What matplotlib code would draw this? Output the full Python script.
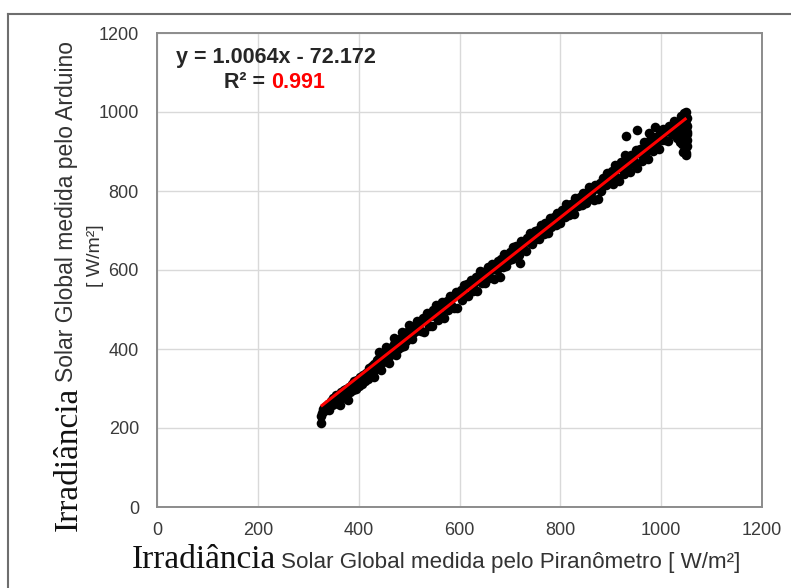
import matplotlib
matplotlib.use("Agg")
import matplotlib.pyplot as plt
from matplotlib.lines import Line2D

# ---------------- data ----------------
x_a = [325, 326, 328, 330, 332, 335, 337, 340, 342, 345, 347, 350, 352, 355, 357, 360, 362, 365, 367,
       370, 372, 375, 378, 380, 383, 386, 388, 391, 394, 397, 400, 403, 406, 409, 412, 415, 418]
y_a = [213, 230, 238, 247, 242, 255, 250, 262, 246, 268, 258, 275, 262, 283, 270, 280, 258, 290, 275,
       296, 282, 300, 272, 305, 290, 312, 295, 318, 300, 322, 306, 328, 312, 335, 318, 340, 325]

x_b = [421, 423, 426, 428, 431, 433, 436, 438, 441, 443, 446, 448, 451, 453, 456, 458, 461, 463, 466, 468,
       471, 473, 476, 478, 481, 483, 486, 488, 491, 493, 496, 498, 501, 503, 506, 508, 511, 513, 516, 518,
       430, 445, 460, 475, 490, 505, 440, 455, 470, 485, 500, 515]
y_b = [352, 335, 358, 342, 363, 350, 372, 355, 378, 362, 383, 368, 390, 372, 395, 378, 400, 385, 405, 390,
       412, 395, 420, 400, 425, 405, 430, 418, 436, 420, 442, 428, 448, 432, 452, 440, 458, 445, 462, 450,
       330, 348, 365, 385, 408, 425, 392, 405, 428, 444, 460, 470]

x_c = [521, 524, 527, 530, 533, 536, 539, 542, 545, 548, 551, 554, 557, 560, 563, 566, 569, 572, 575, 578,
       581, 584, 587, 590, 593, 596, 599, 602, 605, 608, 611, 614, 617, 620, 623, 626, 629, 632, 635, 638,
       641, 644, 647, 650, 653, 656, 659, 662, 665, 668, 671, 674, 677, 680, 683, 686, 689, 692, 695, 698, 720]
y_c = [468, 446, 479, 444, 470, 490, 459, 484, 457, 498, 483, 511, 474, 504, 487, 518, 479, 512, 522, 500,
       535, 511, 531, 504, 545, 503, 536, 549, 525, 562, 535, 564, 534, 562, 575, 548, 566, 582, 547, 582,
       598, 568, 594, 567, 593, 608, 579, 599, 615, 578, 613, 601, 624, 582, 627, 608, 641, 609, 635, 625, 618]

x_d = [701, 704, 707, 710, 713, 716, 719, 722, 725, 728, 731, 734, 737, 740, 743, 746, 749, 752, 755, 758,
       761, 764, 767, 770, 773, 776, 779, 782, 785, 788, 791, 794, 797, 800, 803, 806, 809, 812, 815, 818,
       821, 824, 827, 830, 833, 836, 839, 842, 845, 848, 851, 854, 857, 860, 863, 866, 869, 872, 875, 878,
       881, 884, 887, 890, 893, 896, 899]
y_d = [645, 628, 657, 637, 660, 653, 639, 674, 654, 670, 648, 682, 671, 694, 665, 686, 699, 678, 701, 678,
       713, 699, 691, 719, 711, 694, 732, 710, 728, 735, 714, 745, 729, 719, 751, 745, 735, 766, 757, 739,
       767, 760, 742, 782, 773, 763, 786, 764, 795, 782, 769, 798, 809, 784, 801, 776, 816, 807, 779, 820,
       801, 834, 824, 815, 845, 825, 843]

x_e = [902, 905, 908, 911, 914, 917, 920, 923, 926, 929, 932, 935, 938, 941, 944, 947, 950, 953, 956, 959,
       962, 965, 968, 971, 974, 977, 980, 983, 986, 989, 992, 995, 998, 1001, 1004, 1007, 1010, 1013, 1016,
       1019, 1022, 1025, 1028, 930, 952, 975, 988]
y_e = [850, 818, 866, 836, 857, 825, 873, 859, 844, 890, 860, 880, 849, 892, 882, 868, 905, 858, 897, 907,
       877, 923, 896, 916, 882, 930, 915, 901, 937, 914, 935, 906, 946, 929, 957, 928, 951, 926, 964,
       955, 945, 976, 956, 940, 955, 948, 962]

x_f = [1032, 1035, 1038, 1040, 1042, 1044, 1045, 1046, 1047, 1048, 1049, 1050, 1050, 1051, 1051, 1052, 1052,
       1048, 1046, 1044, 1050, 1052, 1049, 1047, 1045, 1051, 1043, 1040, 1037, 1050]
y_f = [935, 975, 950, 990, 920, 965, 998, 940, 905, 980, 925, 960, 895, 945, 915, 985, 930,
       910, 955, 900, 970, 950, 890, 935, 985, 965, 940, 960, 925, 1000]

slope = 1.0064
intercept = -72.172
r2 = 0.991
fit_x = [325, 1050]

x_ticks = [0, 200, 400, 600, 800, 1000, 1200]
y_ticks = [0, 200, 400, 600, 800, 1000, 1200]

eq_text = "y = 1.0064x - 72.172"
r2_label = "R² = "
r2_text = "0.991"
xlab_serif = "Irradiância"
xlab_rest = "Solar Global medida pelo Piranômetro [ W/m²]"
ylab_serif = "Irradiância"
ylab_rest = "Solar Global medida pelo Arduino"
ylab_line2 = "[ W/m²]"

# ---------------- figure ----------------
W, H = 791, 588
fig = plt.figure(figsize=(W / 100, H / 100), dpi=100)
fig.patch.set_facecolor("white")

def fx(px):
    return px / W

def fy(py):
    return 1 - py / H

ax = fig.add_axes([fx(157), fy(507), fx(762) - fx(157), fy(33) - fy(507)])

xs = x_a + x_b + x_c + x_d + x_e + x_f
ys = y_a + y_b + y_c + y_d + y_e + y_f
ax.scatter(xs, ys, s=48, color="black", linewidths=0, zorder=3)

fy_line = [slope * v + intercept for v in fit_x]
ax.plot(fit_x, fy_line, color="#ff0000", lw=2.2, zorder=4, solid_capstyle="butt")

ax.set_xlim(0, 1200)
ax.set_ylim(0, 1200)
ax.set_xticks(x_ticks)
ax.set_yticks(y_ticks)
ax.grid(True, color="#d9d9d9", lw=1.0)
ax.set_axisbelow(True)
for s in ax.spines.values():
    s.set_color("#8c8c8c")
    s.set_linewidth(1.4)
ax.tick_params(length=0, labelsize=13, labelcolor="#3a3a3a")
ax.tick_params(axis="x", pad=11)
ax.tick_params(axis="y", pad=13)
for lab in ax.get_xticklabels() + ax.get_yticklabels():
    lab.set_fontfamily("Liberation Sans")

# outer frame (extends past right and bottom edge)
fig.add_artist(Line2D([fx(8), 1.0], [fy(14), fy(14)], transform=fig.transFigure, color="#6e6e6e", lw=1.5))
fig.add_artist(Line2D([fx(8), fx(8)], [0.0, fy(14)], transform=fig.transFigure, color="#6e6e6e", lw=1.5))

# equation
fig.text(fx(276), fy(57), eq_text, ha="center", va="center", fontsize=15.5, fontweight="bold",
         family="Liberation Sans", color="#262626")
t1 = fig.text(fx(224), fy(82), r2_label, ha="left", va="center", fontsize=15.5, fontweight="bold",
              family="Liberation Sans", color="#262626")

fig.canvas.draw()
r = fig.canvas.get_renderer()
bb = t1.get_window_extent(r)
fig.text(bb.x1 / W, fy(82), r2_text, ha="left", va="center", fontsize=15.5, fontweight="bold",
         family="Liberation Sans", color="#ff0000")

# x label
tx = fig.text(fx(132), fy(568), xlab_serif, ha="left", va="baseline", fontsize=24,
              family="Liberation Serif", color="#111111")
fig.canvas.draw()
bb = tx.get_window_extent(r)
fig.text((bb.x1 + 5) / W, fy(568), xlab_rest, ha="left", va="baseline", fontsize=16.1,
         family="Liberation Sans", color="#333333")

# y label
ty = fig.text(fx(77), fy(531), ylab_serif, ha="left", va="baseline", rotation=90,
              rotation_mode="anchor", fontsize=24, family="Liberation Serif", color="#111111")
fig.canvas.draw()
bb = ty.get_window_extent(r)
fig.text(fx(73), (bb.y1 + 5) / H, ylab_rest, ha="left", va="baseline", rotation=90,
         rotation_mode="anchor", fontsize=16.5, family="Liberation Sans", color="#333333")
fig.text(fx(96), fy(256), ylab_line2, ha="center", va="center", rotation=90,
         fontsize=14, family="Liberation Sans", color="#333333")

fig.savefig("out.png", dpi=100)
